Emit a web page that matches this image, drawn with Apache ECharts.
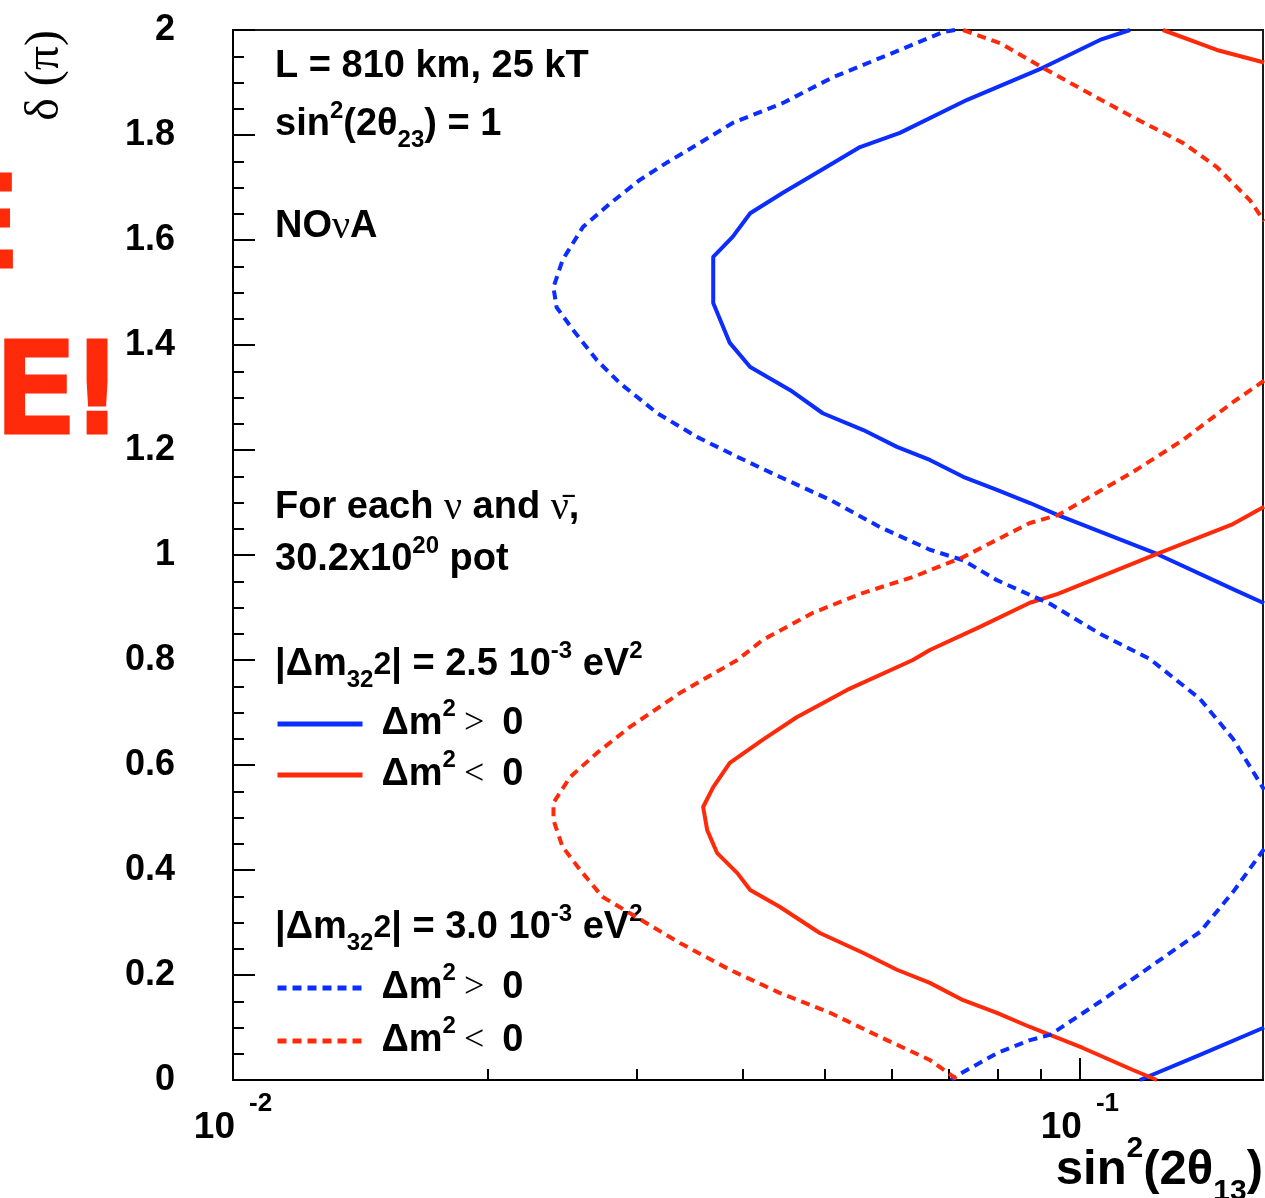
<!DOCTYPE html>
<html>
<head>
<meta charset="utf-8">
<script src="https://cdn.jsdelivr.net/npm/echarts@6/dist/echarts.min.js"></script>
<style>
  html, body { margin: 0; padding: 0; background: #ffffff; }
  #chart { width: 1265px; height: 1198px; }
</style>
</head>
<body>
<div id="chart"></div>
<script>
// NOvA sensitivity contours: sin^2(2θ13) versus δ (in units of π).
// Each contour is split where it leaves the frame; pieces share a series name.

// |Δm32^2| = 2.5e-3 eV^2, normal hierarchy (Δm^2 > 0)
const dm25PosMain = [
  [0.1146, 2.000], [0.1056, 1.981], [0.0904, 1.928], [0.0736, 1.867], [0.0613, 1.804],
  [0.0550, 1.777], [0.0489, 1.728], [0.0446, 1.690], [0.0408, 1.651], [0.0389, 1.606],
  [0.0369, 1.568], [0.0369, 1.480], [0.0386, 1.404], [0.0408, 1.358], [0.0455, 1.314],
  [0.0497, 1.270], [0.0555, 1.238], [0.0608, 1.206], [0.0665, 1.181], [0.0728, 1.149],
  [0.0798, 1.124], [0.0873, 1.099], [0.0942, 1.076], [0.1233, 1.002], [0.1516, 0.935],
  [0.1650, 0.908]
];
const dm25PosLow = [[0.1177, 0.000], [0.1386, 0.048], [0.1650, 0.100]];

// |Δm32^2| = 2.5e-3 eV^2, inverted hierarchy (Δm^2 < 0)
const dm25NegMain = [
  [0.1233, 0.000], [0.1155, 0.019], [0.1008, 0.061], [0.0922, 0.086], [0.0873, 0.101],
  [0.0798, 0.128], [0.0728, 0.152], [0.0665, 0.185], [0.0608, 0.210], [0.0555, 0.242],
  [0.0493, 0.280], [0.0442, 0.330], [0.0408, 0.362], [0.0394, 0.394], [0.0373, 0.432],
  [0.0363, 0.476], [0.0359, 0.520], [0.0369, 0.558], [0.0386, 0.604], [0.0422, 0.648],
  [0.0463, 0.691], [0.0531, 0.743], [0.0635, 0.800], [0.0665, 0.819], [0.0762, 0.863],
  [0.0873, 0.909], [0.0942, 0.926], [0.1233, 1.002], [0.1516, 1.059], [0.1650, 1.092]
];
const dm25NegHigh = [[0.1253, 2.000], [0.1451, 1.962], [0.1650, 1.938]];

// |Δm32^2| = 3.0e-3 eV^2, normal hierarchy (Δm^2 > 0)
const dm30PosMain = [
  [0.0712, 2.000], [0.0689, 1.996], [0.0613, 1.962], [0.0511, 1.910], [0.0446, 1.861],
  [0.0389, 1.823], [0.0356, 1.785], [0.0325, 1.747], [0.0302, 1.714], [0.0279, 1.670],
  [0.0259, 1.625], [0.0245, 1.562], [0.0239, 1.510], [0.0241, 1.472], [0.0252, 1.429],
  [0.0269, 1.371], [0.0286, 1.328], [0.0317, 1.270], [0.0353, 1.225], [0.0394, 1.187],
  [0.0442, 1.149], [0.0507, 1.105], [0.0581, 1.053], [0.0665, 1.010], [0.0728, 0.990],
  [0.0798, 0.952], [0.0922, 0.907], [0.1056, 0.850], [0.1209, 0.802], [0.1386, 0.726],
  [0.1516, 0.650], [0.1650, 0.553]
];
const dm30PosLow = [
  [0.1650, 0.440], [0.1516, 0.358], [0.1386, 0.282], [0.1209, 0.215], [0.1056, 0.149],
  [0.0922, 0.086], [0.0873, 0.076], [0.0798, 0.051], [0.0708, 0.004], [0.0705, 0.000]
];

// |Δm32^2| = 3.0e-3 eV^2, inverted hierarchy (Δm^2 < 0)
const dm30NegHigh = [
  [0.0728, 2.000], [0.0805, 1.975], [0.0904, 1.928], [0.1008, 1.886], [0.1155, 1.834],
  [0.1323, 1.785], [0.1451, 1.739], [0.1587, 1.676], [0.1650, 1.636]
];
const dm30NegMain = [
  [0.1650, 1.332], [0.1516, 1.291], [0.1323, 1.219], [0.1155, 1.158], [0.0942, 1.076],
  [0.0873, 1.061], [0.0798, 1.029], [0.0728, 0.996], [0.0635, 0.958], [0.0555, 0.928],
  [0.0484, 0.890], [0.0422, 0.838], [0.0394, 0.800], [0.0337, 0.737], [0.0294, 0.672],
  [0.0269, 0.623], [0.0250, 0.577], [0.0239, 0.528], [0.0239, 0.495], [0.0245, 0.444],
  [0.0257, 0.400], [0.0273, 0.349], [0.0294, 0.318], [0.0337, 0.261], [0.0386, 0.210],
  [0.0442, 0.166], [0.0507, 0.128], [0.0581, 0.082], [0.0665, 0.038], [0.0718, 0.000]
];

// Axis ticks and labels
const xRange = [0.01, 0.1645];
const xMajorTicks = [0.01, 0.1];
const xMajorExponents = ['-2', '-1'];
const xMinorTicks = [0.02, 0.03, 0.04, 0.05, 0.06, 0.07, 0.08, 0.09];
const yTickLabels = ['0', '0.2', '0.4', '0.6', '0.8', '1', '1.2', '1.4', '1.6', '1.8', '2'];

// Legend entries: sign of Δm^2 for each contour
const legendLabels = {
  dm25pos: '>', dm25neg: '<', dm30pos: '>', dm30neg: '<'
};

const BLUE = '#0b2dff';
const RED = '#ff2a0a';
const SANS = '"Liberation Sans", Arial, Helvetica, sans-serif';
const SERIF = '"Liberation Serif", "Times New Roman", serif';

const chart = echarts.init(document.getElementById('chart'), null, { renderer: 'canvas' });

function contour(name, data, color, dashed) {
  return {
    name: name,
    type: 'line',
    data: data,
    xAxisIndex: 0,
    yAxisIndex: 0,
    symbol: 'none',
    showSymbol: false,
    smooth: false,
    clip: true,
    silent: true,
    animation: false,
    lineStyle: { color: color, width: 4, type: dashed ? [9, 6] : 'solid', cap: 'butt' },
    itemStyle: { color: color }
  };
}

// Shared rich-text styles for the in-frame annotations
const FS = 38;
const richText = {
  t: { fontFamily: SANS, fontWeight: 'bold', fontSize: FS, lineHeight: 60, fill: '#000', color: '#000' },
  sup: { fontFamily: SANS, fontWeight: 'bold', fontSize: 24, height: 32, lineHeight: 32, verticalAlign: 'top', fill: '#000', color: '#000' },
  sub: { fontFamily: SANS, fontWeight: 'bold', fontSize: 24, height: 30, lineHeight: 30, verticalAlign: 'bottom', fill: '#000', color: '#000' },
  mid: { fontFamily: SANS, fontWeight: 'bold', fontSize: 32, lineHeight: 60, fill: '#000', color: '#000' },
  g: { fontFamily: SERIF, fontWeight: 'normal', fontSize: 40, lineHeight: 60, fill: '#000', color: '#000' }
};

function note(x, y, text) {
  return {
    type: 'text', x: x, y: y, silent: true,
    style: {
      text: text, rich: richText, fill: '#000',
      align: 'left', textAlign: 'left',
      verticalAlign: 'middle', textVerticalAlign: 'middle'
    }
  };
}

function legendBlock(top, gap, names) {
  return {
    show: true,
    data: names,
    orient: 'vertical',
    left: 275,
    top: top,
    padding: 0,
    itemGap: gap,
    itemWidth: 85,
    itemHeight: 14,
    selectedMode: false,
    lineStyle: { width: 5 },
    itemStyle: { color: 'rgba(0,0,0,0)', borderWidth: 0, opacity: 0 },
    formatter: function (name) {
      return '{a|Δm}{s|2}{o|' + legendLabels[name] + '}{z|0}';
    },
    textStyle: {
      color: '#000',
      rich: {
        a: { fontFamily: SANS, fontWeight: 'bold', fontSize: FS, lineHeight: 44, padding: [0, 0, 0, 14], color: '#000' },
        s: { fontFamily: SANS, fontWeight: 'bold', fontSize: 24, height: 14, lineHeight: 14, verticalAlign: 'top', color: '#000' },
        o: { fontFamily: SERIF, fontWeight: 'normal', fontSize: 36, lineHeight: 44, padding: [0, 18, 0, 8], color: '#000' },
        z: { fontFamily: SANS, fontWeight: 'bold', fontSize: FS, lineHeight: 44, color: '#000' }
      }
    }
  };
}

const option = {
  backgroundColor: '#ffffff',
  animation: false,
  grid: {
    left: 233, top: 30, right: 2, bottom: 118,
    show: true, borderColor: '#1a1a1a', borderWidth: 2,
    backgroundColor: 'transparent', containLabel: false
  },
  xAxis: [
    {
      type: 'log', logBase: 10, min: xRange[0], max: xRange[1],
      position: 'bottom',
      axisLine: { show: true, onZero: false, lineStyle: { color: '#000', width: 2 } },
      axisTick: { show: true, inside: true, length: 22, customValues: xMajorTicks, lineStyle: { color: '#000', width: 2 } },
      splitLine: { show: false },
      axisLabel: {
        show: true, margin: 12, customValues: xMajorTicks,
        formatter: function (v) {
          let i = 0;
          for (let k = 0; k < xMajorTicks.length; k++) {
            if (Math.abs(Math.log10(xMajorTicks[k]) - Math.log10(v)) < 1e-6) i = k;
          }
          return '{b|10}{e|' + xMajorExponents[i] + '}';
        },
        rich: {
          b: { fontFamily: SANS, fontWeight: 'bold', fontSize: 37, height: 36, lineHeight: 54, verticalAlign: 'bottom', color: '#000' },
          e: { fontFamily: SANS, fontWeight: 'bold', fontSize: 26, height: 24, lineHeight: 24, padding: [0, 0, 0, 14], verticalAlign: 'top', color: '#000' }
        }
      }
    },
    {
      type: 'log', logBase: 10, min: xRange[0], max: xRange[1],
      position: 'bottom',
      axisLine: { show: false, onZero: false },
      axisTick: { show: true, inside: true, length: 11, customValues: xMinorTicks, lineStyle: { color: '#000', width: 2 } },
      splitLine: { show: false },
      axisLabel: { show: false }
    }
  ],
  yAxis: {
    type: 'value', min: 0, max: 2, interval: 0.2,
    axisLine: { show: true, onZero: false, lineStyle: { color: '#000', width: 2 } },
    axisTick: { show: true, inside: true, length: 22, lineStyle: { color: '#000', width: 2 } },
    minorTick: { show: true, splitNumber: 4, length: 11, lineStyle: { color: '#000', width: 2 } },
    splitLine: { show: false },
    minorSplitLine: { show: false },
    axisLabel: {
      margin: 58,
      fontFamily: SANS, fontWeight: 'bold', fontSize: 36, color: '#000',
      formatter: function (v) { return yTickLabels[Math.round(v / 0.2)]; }
    }
  },
  legend: [
    legendBlock(697, 5, ['dm25pos', 'dm25neg']),
    legendBlock(961, 7, ['dm30pos', 'dm30neg'])
  ],
  series: [
    contour('dm25pos', dm25PosMain, BLUE, false),
    contour('dm25pos', dm25PosLow, BLUE, false),
    contour('dm25neg', dm25NegMain, RED, false),
    contour('dm25neg', dm25NegHigh, RED, false),
    contour('dm30pos', dm30PosMain, BLUE, true),
    contour('dm30pos', dm30PosLow, BLUE, true),
    contour('dm30neg', dm30NegMain, RED, true),
    contour('dm30neg', dm30NegHigh, RED, true)
  ],
  graphic: [
    note(275, 67, '{t|L = 810 km, 25 kT}'),
    note(275, 125, '{t|sin}{sup|2}{t|(2θ}{sub|23}{t|) = 1}'),
    note(275, 227, '{t|NO}{g|ν}{t|A}'),
    note(275, 508, '{t|For each }{g|ν}{t| and }{g|ν̄}{t|,}'),
    note(275, 560, '{t|30.2x10}{sup|20}{t| pot}'),
    note(275, 665, '{t|\u007cΔm}{sub|32}{mid|2}{t|\u007c = 2.5 10}{sup|-3}{t| eV}{sup|2}'),
    note(275, 928, '{t|\u007cΔm}{sub|32}{mid|2}{t|\u007c = 3.0 10}{sup|-3}{t| eV}{sup|2}'),
    // x-axis title
    {
      type: 'text', x: 1263, y: 1170, silent: true,
      style: {
        text: '{a|sin}{s|2}{a|(2θ}{b|13}{a|)}',
        align: 'right', textAlign: 'right', verticalAlign: 'middle', textVerticalAlign: 'middle',
        fill: '#000',
        rich: {
          a: { fontFamily: SANS, fontWeight: 'bold', fontSize: 49, lineHeight: 76, fill: '#000' },
          s: { fontFamily: SANS, fontWeight: 'bold', fontSize: 30, height: 34, lineHeight: 34, verticalAlign: 'top', fill: '#000' },
          b: { fontFamily: SANS, fontWeight: 'bold', fontSize: 30, height: 32, lineHeight: 32, verticalAlign: 'bottom', fill: '#000' }
        }
      }
    },
    // y-axis title, reading upwards
    {
      type: 'text', x: 45, y: 30, rotation: Math.PI / 2, silent: true,
      style: {
        text: 'δ (π)', font: 'normal 48px ' + SERIF, fill: '#000',
        align: 'right', textAlign: 'right', verticalAlign: 'middle', textVerticalAlign: 'middle'
      }
    },
    // red slide lettering at the left edge
    {
      type: 'text', x: 16, y: 233, silent: true,
      style: {
        text: 'E', font: 'normal 120px "DejaVu Sans", sans-serif', fill: RED, stroke: RED,
        lineWidth: 9, lineJoin: 'round', lineCap: 'round',
        align: 'right', textAlign: 'right', verticalAlign: 'middle', textVerticalAlign: 'middle'
      }
    },
    {
      type: 'text', x: 121, y: 399, silent: true,
      style: {
        text: 'E!', font: 'normal 120px "DejaVu Sans", sans-serif', fill: RED, stroke: RED,
        lineWidth: 9, lineJoin: 'round', lineCap: 'round',
        align: 'right', textAlign: 'right', verticalAlign: 'middle', textVerticalAlign: 'middle'
      }
    }
  ]
};

chart.setOption(option);
</script>
</body>
</html>
